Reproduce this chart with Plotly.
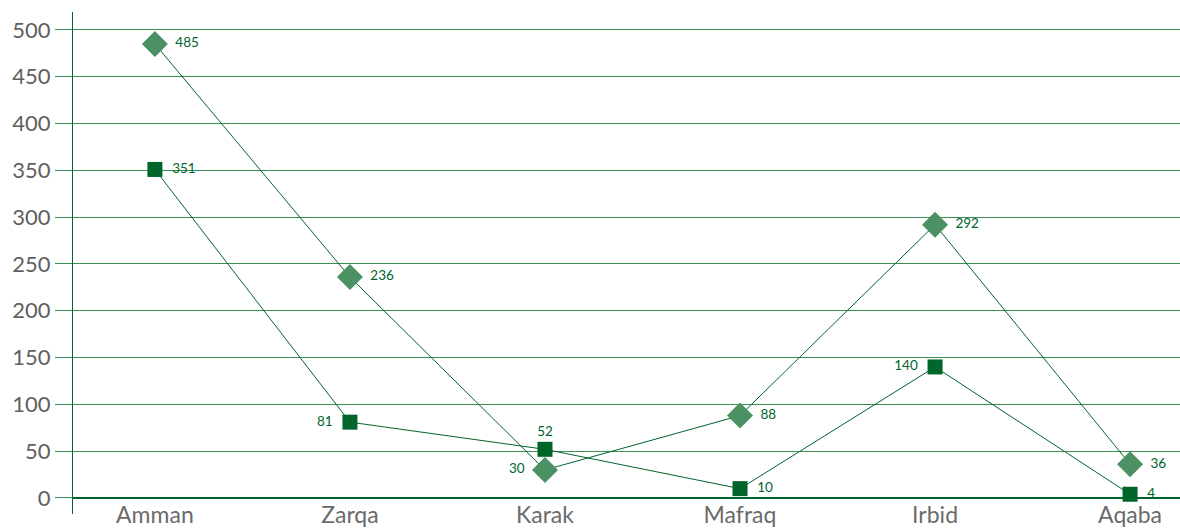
import plotly.graph_objects as go

# Governorates along the horizontal axis
governorates = ["Amman", "Zarqa", "Karak", "Mafraq", "Irbid", "Aqaba"]

# Two series drawn as lines with markers
diamond_values = [485, 236, 30, 88, 292, 36]
square_values = [351, 81, 52, 10, 140, 4]

# Value axis ticks
y_ticks = [0, 50, 100, 150, 200, 250, 300, 350, 400, 450, 500]

DARK_GREEN = "#00652b"
LIGHT_GREEN = "#4b9163"
GRID_GREEN = "#3d8c55"
LABEL_FONT = "Lato, 'Open Sans', sans-serif"

diamond_pos = ["middle right", "middle right", "middle left",
               "middle right", "middle right", "middle right"]
square_pos = ["middle right", "middle left", "top center",
              "middle right", "middle left", "middle right"]

fig = go.Figure()

fig.add_trace(go.Scatter(
    x=governorates, y=diamond_values,
    mode="lines+markers+text",
    line=dict(color=DARK_GREEN, width=1),
    marker=dict(symbol="diamond", size=20, color=LIGHT_GREEN),
    text=[f"  {v}  " for v in diamond_values],
    textposition=diamond_pos,
    textfont=dict(family=LABEL_FONT, size=13.5, color=DARK_GREEN),
    cliponaxis=False,
    showlegend=False,
))

fig.add_trace(go.Scatter(
    x=governorates, y=square_values,
    mode="lines+markers+text",
    line=dict(color=DARK_GREEN, width=1),
    marker=dict(symbol="square", size=15, color=DARK_GREEN),
    text=[f"  {v}  " for v in square_values],
    textposition=square_pos,
    textfont=dict(family=LABEL_FONT, size=13.5, color=DARK_GREEN),
    cliponaxis=False,
    showlegend=False,
))

fig.update_layout(
    width=1180, height=531,
    margin=dict(l=73, r=0, t=12, b=17),
    paper_bgcolor="white",
    plot_bgcolor="white",
    font=dict(family=LABEL_FONT),
)

fig.update_xaxes(
    type="category",
    range=[-0.42, 5.256],
    automargin=False,
    showgrid=False,
    showline=False,
    zeroline=False,
    ticks="",
    ticklabelstandoff=-15,
    tickfont=dict(size=23, color="#6b6b6b", family=LABEL_FONT),
)

fig.update_yaxes(
    range=[-17.1, 519.2],
    tickvals=y_ticks,
    automargin=False,
    showgrid=True,
    gridcolor=GRID_GREEN,
    gridwidth=1,
    showline=True,
    linecolor=DARK_GREEN,
    linewidth=1,
    zeroline=True,
    zerolinecolor=DARK_GREEN,
    zerolinewidth=1.5,
    ticks="outside",
    ticklen=17,
    tickcolor=GRID_GREEN,
    tickfont=dict(size=22, color="#5f5f5f", family=LABEL_FONT),
)

fig.write_html("out.html")
